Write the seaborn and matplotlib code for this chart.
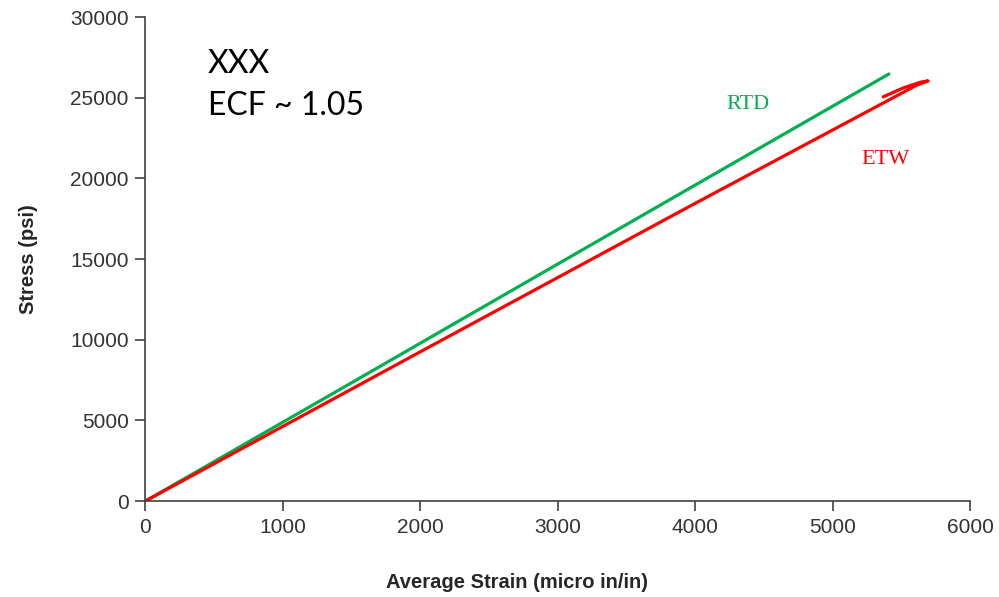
import matplotlib
matplotlib.use("Agg")
import matplotlib.pyplot as plt
import seaborn as sns
import pandas as pd

# Stress-strain records (strain in micro in/in, stress in psi)
rtd_strain = [0, 1500, 3090, 4400, 5410]
rtd_stress = [0, 7330, 15130, 21540, 26470]

etw_strain = [0, 2000, 4000, 5615, 5695, 5640, 5513, 5368]
etw_stress = [0, 9250, 18450, 25790, 26040, 25960, 25600, 25050]

x_ticks = [0, 1000, 2000, 3000, 4000, 5000, 6000]
y_ticks = [0, 5000, 10000, 15000, 20000, 25000, 30000]

sns.set_style("white")
plt.rcParams["font.family"] = ["Liberation Sans", "DejaVu Sans"]

fig = plt.figure(figsize=(9.99, 5.97), dpi=100)
ax = fig.add_axes([0.1456, 0.1608, 0.8254, 0.8107])

rtd = pd.DataFrame({"strain": rtd_strain, "stress": rtd_stress})
etw = pd.DataFrame({"strain": etw_strain, "stress": etw_stress})

sns.lineplot(data=rtd, x="strain", y="stress", sort=False, color="#00B050",
             linewidth=2.3, ax=ax, estimator=None)
sns.lineplot(data=etw, x="strain", y="stress", sort=False, color="#FF0000",
             linewidth=2.3, ax=ax, estimator=None)

ax.set_xlim(0, 6000)
ax.set_ylim(0, 30000)
ax.set_xticks(x_ticks)
ax.set_yticks(y_ticks)
ax.tick_params(axis="both", labelsize=15, colors="#404040", direction="out",
               length=7, width=1.2, left=True, bottom=True, pad=5)
for lbl in ax.get_xticklabels() + ax.get_yticklabels():
    lbl.set_color("#333333")

for side in ["top", "right"]:
    ax.spines[side].set_visible(False)
for side in ["left", "bottom"]:
    ax.spines[side].set_color("#404040")
    ax.spines[side].set_linewidth(1.2)

ax.set_xlabel("Average Strain (micro in/in)", fontsize=14.5, fontweight="bold",
              color="#262626")
ax.set_ylabel("Stress (psi)", fontsize=14.5, fontweight="bold",
              color="#262626")
ax.xaxis.set_label_coords(0.4505, -0.149)
ax.yaxis.set_label_coords(-0.130, 0.5)

ax.text(455, 26535, "XXX", fontsize=23, family=["Lato", "DejaVu Sans"],
        color="black", va="baseline", ha="left")
ax.text(455, 23930, "ECF ~ 1.05", fontsize=23, family=["Lato", "DejaVu Sans"],
        color="black", va="baseline", ha="left")

ax.text(4385, 24550, "RTD", fontsize=16, family=["Liberation Serif", "DejaVu Serif"],
        color="#00B050", ha="center", va="center")
ax.text(5382, 21140, "ETW", fontsize=16, family=["Liberation Serif", "DejaVu Serif"],
        color="#FF0000", ha="center", va="center")

fig.savefig("out.png", dpi=100)
